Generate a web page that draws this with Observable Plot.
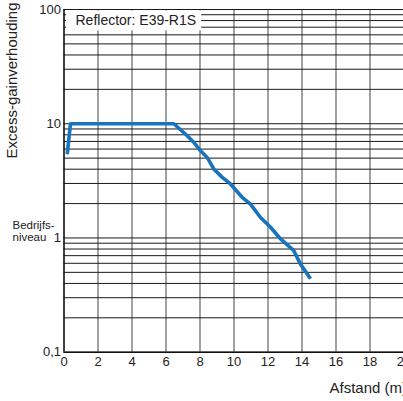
<!DOCTYPE html>
<html>
<head>
<meta charset="utf-8">
<script src="https://cdn.jsdelivr.net/npm/d3@7"></script>
<script src="https://cdn.jsdelivr.net/npm/@observablehq/plot@0.6"></script>
<style>
html, body { margin: 0; padding: 0; overflow: hidden; background: #fff; }
#chart svg { display: block; max-width: none !important; }
</style>
</head>
<body>
<div id="chart"></div>
<script>
// Data
const distance = [0.19, 0.38, 6.46, 7.25, 7.64, 8.03, 8.42, 8.81, 9.31, 9.79, 10.48, 10.97, 11.56, 12.15, 12.74, 13.52, 13.91, 14.5];
const excessGain = [5.4, 10, 10, 7.85, 6.86, 5.8, 5.07, 4.02, 3.39, 2.97, 2.27, 1.98, 1.51, 1.24, 0.98, 0.774, 0.59, 0.44];

const xTicks = [0, 2, 4, 6, 8, 10, 12, 14, 16, 18, 20];
const xGrid = [2, 4, 6, 8, 10, 12, 14, 16, 18, 20];
const yTicks = [0.1, 1, 10, 100];
const yTickLabels = ["0,1", "1", "10", "100"];
const yGrid = [0.1, 0.2, 0.3, 0.4, 0.5, 0.6, 0.7, 0.8, 0.9, 1, 2, 3, 4, 5, 6, 7, 8, 9, 10, 20, 30, 40, 50, 60, 70, 80, 90, 100];

const legendText = "Reflector: E39-R1S";
const legendBox = [{x1: 0.15, x2: 8.1, y1: 65, y2: 97}];
const yTitle = "Excess-gainverhouding";
const xTitle = "Afstand (m)";
const levelLabel = "Bedrijfs-\nniveau";

const data = distance.map((d, i) => ({x: d, y: excessGain[i]}));
const font = "'Liberation Sans', Arial, Helvetica, sans-serif";

const chart = Plot.plot({
  width: 410,
  height: 401,
  marginLeft: 63.5,
  marginRight: 6.5,
  marginTop: 9,
  marginBottom: 49.3,
  style: {fontFamily: font, fontSize: "13px", color: "#222", background: "#fff", overflow: "visible", maxWidth: "none"},
  x: {domain: [0, 20]},
  y: {type: "log", domain: [0.1, 100]},
  marks: [
    Plot.ruleX(xGrid, {stroke: "#7a7a7a", strokeWidth: 1.4}),
    Plot.ruleY(yGrid, {stroke: "#1a1a1a", strokeWidth: 1}),
    Plot.rect(legendBox, {x1: "x1", x2: "x2", y1: "y1", y2: "y2", fill: "#fff"}),
    Plot.text([legendText], {frameAnchor: "top-left", dx: 11.5, dy: 11, textAnchor: "start", lineAnchor: "middle", fontSize: 14, fill: "#222"}),
    Plot.ruleX([0], {stroke: "#111", strokeWidth: 1.6}),
    Plot.ruleY([0.1], {stroke: "#111", strokeWidth: 1.6}),
    Plot.line(data, {x: "x", y: "y", stroke: "#1874bc", strokeWidth: 3.6, strokeLinejoin: "round", strokeLinecap: "butt"}),
    Plot.axisX({ticks: xTicks, tickSize: 0, tickPadding: 5, label: null, fontSize: 13}),
    Plot.axisY({ticks: yTicks, tickFormat: (d) => yTickLabels[yTicks.indexOf(d)], tickSize: 0, tickPadding: 3, label: null, fontSize: 13}),
    Plot.text([yTitle], {frameAnchor: "top-left", rotate: -90, dx: -51.5, dy: -7, textAnchor: "end", lineAnchor: "middle", fontSize: 15, fill: "#222"}),
    Plot.text([levelLabel], {x: () => 0, y: () => 1, dx: -51.5, dy: -6.5, textAnchor: "start", lineAnchor: "middle", fontSize: 11.5, fill: "#222"}),
    Plot.text([xTitle], {frameAnchor: "bottom-right", dx: 3, dy: 30, textAnchor: "end", lineAnchor: "top", fontSize: 15, fill: "#222"})
  ]
});
document.getElementById("chart").appendChild(chart);
</script>
</body>
</html>
